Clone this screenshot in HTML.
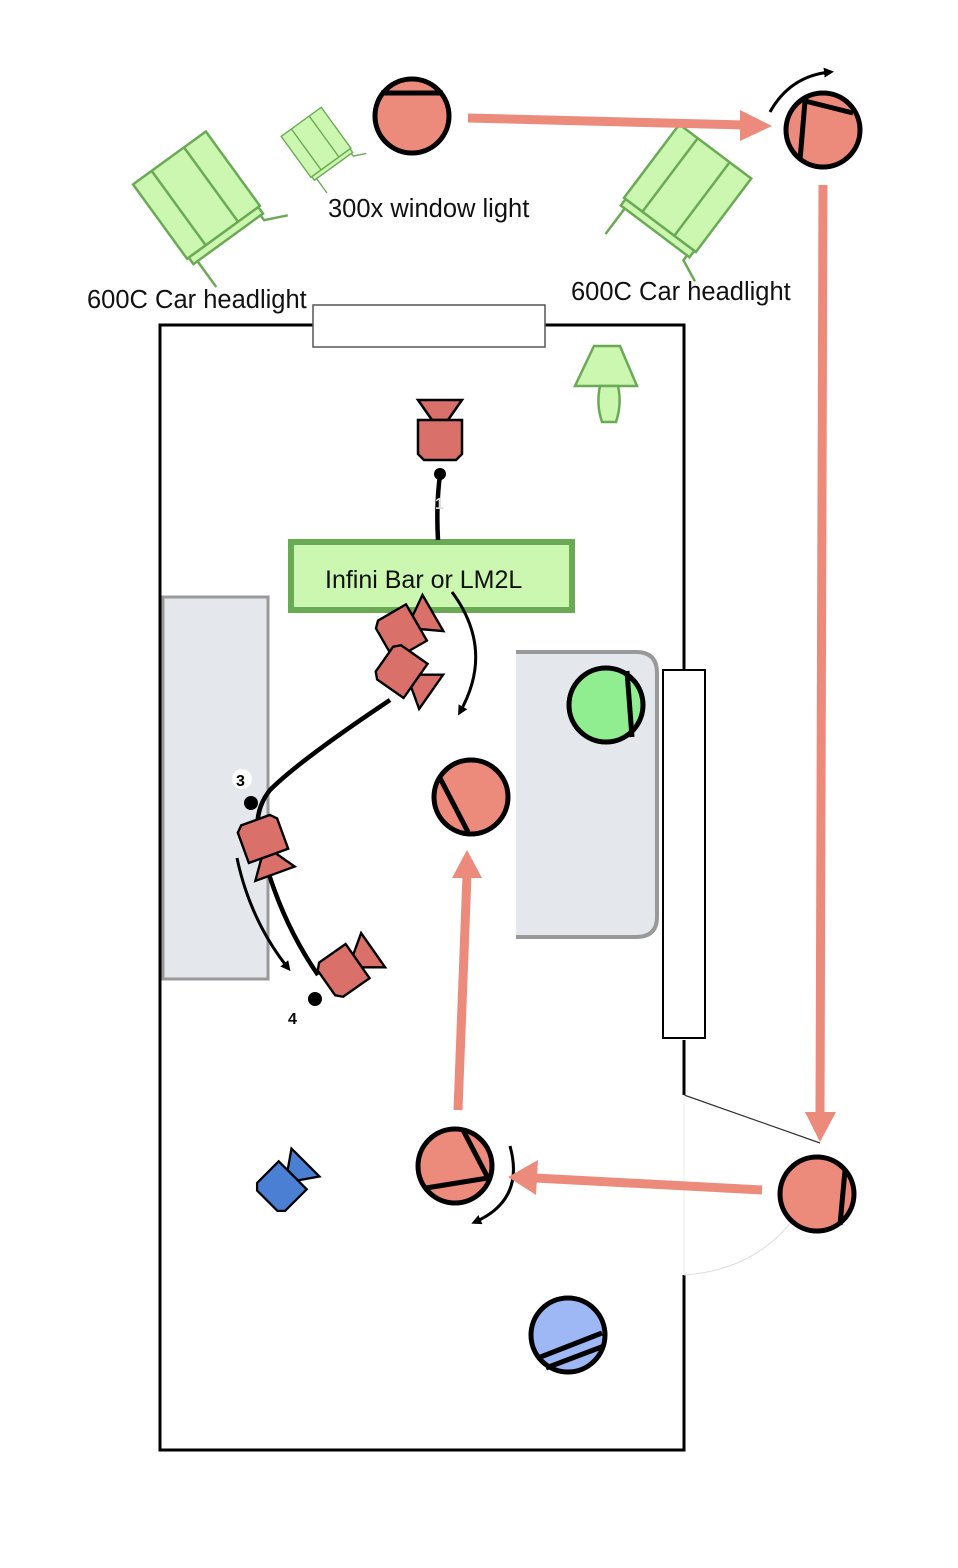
<!DOCTYPE html>
<html><head><meta charset="utf-8"><style>
html,body{margin:0;padding:0;background:#fff;}
svg{display:block;}
text{font-family:"Liberation Sans",sans-serif;}
</style></head><body>
<svg width="958" height="1568" viewBox="0 0 958 1568" xmlns="http://www.w3.org/2000/svg">
<defs>
<marker id="ah" markerWidth="10" markerHeight="10" refX="6" refY="5" orient="auto" markerUnits="userSpaceOnUse"><path d="M0,0 L10,5 L0,10 z" fill="#000"/></marker>
<g id="cam">
<polygon points="-22,-40 22,-40 8,-20 -8,-20" />
<polygon points="-22,-20 22,-20 22,14 16,20 -16,20 -22,14"/>
</g>
<g id="bigl">
<rect x="-45" y="-52" width="90" height="92"/>
<line x1="-22" y1="-52" x2="-22" y2="40"/>
<line x1="18" y1="-52" x2="18" y2="40"/>
<rect x="-43" y="40" width="86" height="8"/>
<polyline points="-38,48 -38,54 -38,80" fill="none"/>
<polyline points="40,48 40,54 62,64" fill="none"/>
</g>
</defs>

<g stroke="#000" stroke-width="3" fill="none">
<polyline points="684,1095 684,1040"/>
<polyline points="684,670 684,325 160,325 160,1450 684,1450 684,1275"/>
</g>
<line x1="684" y1="1095" x2="820" y2="1143" stroke="#333" stroke-width="1.2"/>
<path d="M684,1275 Q760,1270 800,1210" fill="none" stroke="#ddd" stroke-width="1"/>
<line x1="684" y1="1095" x2="684" y2="1275" stroke="#eee" stroke-width="1"/>

<rect x="313" y="305" width="232" height="42" fill="#fff" stroke="#555" stroke-width="1.5"/>
<rect x="663" y="670" width="42" height="368" fill="#fff" stroke="#000" stroke-width="2"/>

<rect x="163" y="597" width="105" height="382" fill="#e4e7ec" stroke="#999" stroke-width="3"/>
<path d="M516,652 L636,652 Q657,652 657,673 L657,917 Q657,937 636,937 L516,937 Z" fill="#e4e7ec"/>
<path d="M516,652 L636,652 Q657,652 657,673 L657,917 Q657,937 636,937 L516,937" fill="none" stroke="#999" stroke-width="4"/>

<g fill="#ccf7b0" stroke="#6aaa55" stroke-width="2.5">
<g transform="translate(200,200) rotate(-36)"><use href="#bigl"/></g>
<g transform="translate(684,193) rotate(37)"><use href="#bigl"/></g>
<g transform="translate(318,145) rotate(-36) scale(0.55)"><use href="#bigl"/></g>
<polygon points="594,346 620,346 637,386 575,386"/>
<path d="M600,386 L618,386 Q622,404 616,422 L602,422 Q596,404 600,386 Z"/>
</g>

<text x="328" y="217" font-size="25.5" fill="#111">300x window light</text>
<text x="87" y="308" font-size="25.5" fill="#111">600C Car headlight</text>
<text x="571" y="300" font-size="25.5" fill="#111">600C Car headlight</text>

<rect x="291" y="542" width="281" height="68" fill="#ccf7b0" stroke="#6aaa55" stroke-width="6"/>
<text x="325" y="588" font-size="25" fill="#111">Infini Bar or LM2L</text>

<g stroke="#000" fill="none" stroke-width="4.5">
<path d="M440,475 Q436,505 438,540"/>
<path d="M390,700 Q300,760 270,790 Q250,815 262,850 Q280,920 318,975"/>
</g>
<circle cx="440" cy="474" r="6" fill="#000"/>
<text x="435" y="509" font-size="16" font-weight="bold" fill="#ddd">1</text>
<circle cx="251" cy="803" r="7" fill="#000"/>
<circle cx="242" cy="779" r="10" fill="#fff"/>
<text x="236" y="786" font-size="16" font-weight="bold" fill="#000">3</text>
<circle cx="315" cy="999" r="7" fill="#000"/>
<text x="288" y="1024" font-size="16" font-weight="bold" fill="#000">4</text>

<g stroke="#000" stroke-width="3" fill="none">
<path d="M452,592 Q495,650 460,712" marker-end="url(#ah)"/>
<path d="M237,858 Q250,920 288,968" marker-end="url(#ah)"/>
<path d="M510,1146 Q525,1200 475,1222" marker-end="url(#ah)"/>
<path d="M770,112 Q790,76 830,72" marker-end="url(#ah)"/>
</g>

<g fill="#d9706a" stroke="#000" stroke-width="2.5">
<g transform="translate(440,440)"><use href="#cam"/></g>
<g transform="translate(400,632) rotate(60) scale(0.95)"><use href="#cam"/></g>
<g transform="translate(400,670) rotate(125) scale(0.95)"><use href="#cam"/></g>
<g transform="translate(262,838) rotate(160) scale(0.95)"><use href="#cam"/></g>
<g transform="translate(342,972) rotate(55) scale(0.95)"><use href="#cam"/></g>
</g>
<g fill="#4a7fd4" stroke="#000" stroke-width="2.5">
<g transform="translate(280,1188) rotate(45) scale(0.9)"><use href="#cam"/></g>
</g>

<g stroke="#ec8a7c" stroke-width="9" fill="#ec8a7c">
<line x1="468" y1="118" x2="745" y2="125"/>
<polygon points="740,110 772,126 740,141" stroke="none"/>
<line x1="823" y1="185" x2="820" y2="1115"/>
<polygon points="805,1112 836,1112 820,1142" stroke="none"/>
<line x1="762" y1="1190" x2="535" y2="1178"/>
<polygon points="538,1160 508,1177 536,1195" stroke="none"/>
<line x1="458" y1="1110" x2="467" y2="875"/>
<polygon points="452,878 467,850 482,878" stroke="none"/>
</g>

<g stroke="#000" stroke-width="5">
<circle cx="412" cy="116" r="37" fill="#ec8a7c"/>
<line x1="381" y1="93" x2="443" y2="93"/>
<circle cx="823" cy="130" r="37" fill="#ec8a7c"/>
<polyline points="800,160 805,101 853,113" fill="none"/>
<circle cx="606" cy="705" r="37" fill="#90ee90"/>
<line x1="627" y1="671" x2="632" y2="737"/>
<circle cx="471" cy="797" r="37" fill="#ec8a7c"/>
<line x1="440" y1="778" x2="468" y2="832"/>
<circle cx="455" cy="1166" r="37" fill="#ec8a7c"/>
<polyline points="463,1130 488,1178 426,1188" fill="none"/>
<circle cx="817" cy="1194" r="37" fill="#ec8a7c"/>
<line x1="845" y1="1170" x2="840" y2="1225"/>
<circle cx="568" cy="1335" r="37" fill="#9db8f5"/>
<line x1="538" y1="1358" x2="602" y2="1333"/>
<line x1="546" y1="1368" x2="604" y2="1346"/>
</g>
</svg>
</body></html>
